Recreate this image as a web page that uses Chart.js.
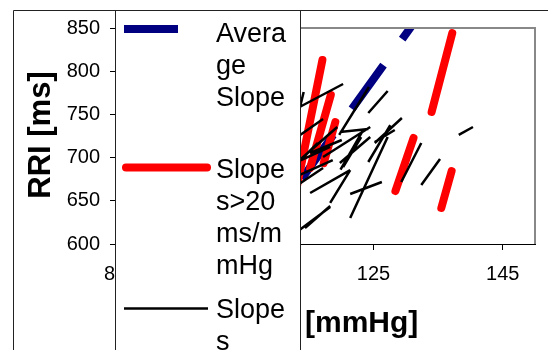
<!DOCTYPE html>
<html>
<head>
<meta charset="utf-8">
<script src="https://cdn.jsdelivr.net/npm/chart.js@4"></script>
<style>
  body { margin: 0; background: #fff; }
  #wrap { width: 548px; height: 350px; position: relative; }
</style>
</head>
<body>
<div id="wrap"><canvas id="rriChart"></canvas></div>
<script>
// segments as [x1, y1, x2, y2] in mmHg / ms
const avgSlope = [
    [113.9, 675.5, 134.2, 886.5]
];
const steepSlopes = [
    [137.2, 844.2, 134.0, 752.8],
    [131.2, 722.7, 128.4, 661.3],
    [137.1, 684.5, 135.5, 641.7],
    [117.1, 813.0, 113.2, 668.3],
    [118.4, 772.5, 115.2, 688.0],
    [119.1, 741.2, 117.3, 693.7]
];
const slopes = [
    [112.1, 752.8, 120.3, 785.2],
    [113.0, 738.9, 114.2, 775.9],
    [112.1, 718.1, 117.2, 744.7],
    [119.7, 726.2, 124.3, 781.7],
    [124.2, 751.6, 127.2, 777.1],
    [125.2, 716.9, 129.4, 745.8],
    [124.2, 694.9, 127.6, 737.7],
    [121.4, 630.1, 127.2, 723.8],
    [121.4, 657.9, 126.3, 671.8],
    [115.2, 659.0, 121.4, 685.6],
    [118.3, 647.5, 121.4, 685.6],
    [112.1, 608.1, 118.3, 642.8],
    [114.4, 618.5, 118.3, 644.0],
    [138.2, 726.2, 140.4, 735.4],
    [132.4, 668.3, 135.3, 698.4],
    [129.3, 671.8, 132.4, 716.9],
    [120.3, 689.1, 123.1, 723.8],
    [125.2, 718.1, 128.3, 731.9],
    [112.1, 691.4, 118.3, 712.3],
    [113.6, 697.2, 119.4, 735.4],
    [117.2, 700.7, 124.5, 735.4],
    [119.8, 729.6, 124.2, 733.1],
    [119.9, 686.0, 123.4, 731.9],
    [113.6, 679.9, 118.7, 697.2],
    [115.2, 705.3, 120.1, 720.4],
    [119.8, 693.7, 124.5, 723.8],
    [112.1, 685.6, 116.4, 716.9],
    [112.1, 662.5, 117.2, 688.0]
];
const xTicks = [85, 105, 125, 145];
const yTicks = [600, 650, 700, 750, 800, 850];
const legendLines = [
    ['Avera', 'ge', 'Slope'],
    ['Slope', 's>20', 'ms/m', 'mHg'],
    ['Slope', 's']
];
const xTitle = '[mmHg]';
const yTitle = 'RRI [ms]';

const FONT = '"Liberation Sans", Arial, sans-serif';

// turn segments into one point list with gaps
function toPoints(segs) {
    let pts = [];
    segs.forEach(s => {
        pts.push({ x: s[0], y: s[1] }, { x: s[2], y: s[3] }, { x: null, y: null });
    });
    return pts;
}

// white legend box, titles and frame drawn on top
const overlay = {
    id: 'overlay',
    afterDatasetsDraw(chart) {
        const ctx = chart.ctx, a = chart.chartArea;
        ctx.save();
        ctx.strokeStyle = '#888';
        ctx.lineWidth = 2;
        ctx.beginPath();
        ctx.moveTo(a.left, a.top);
        ctx.lineTo(a.right, a.top);
        ctx.lineTo(a.right, a.bottom);
        ctx.stroke();
        ctx.restore();
    },
    afterDraw(chart) {
        const ctx = chart.ctx;
        ctx.save();
        // outer frame
        ctx.strokeStyle = '#222';
        ctx.lineWidth = 1;
        ctx.beginPath();
        ctx.moveTo(13.5, 350);
        ctx.lineTo(13.5, 10.5);
        ctx.lineTo(548, 10.5);
        ctx.stroke();

        // axis titles
        ctx.fillStyle = '#000';
        ctx.font = 'bold 30px ' + FONT;
        ctx.textAlign = 'left';
        ctx.textBaseline = 'alphabetic';
        ctx.fillText(xTitle, 305, 332);
        ctx.save();
        ctx.translate(50, 135);
        ctx.rotate(-Math.PI / 2);
        ctx.font = 'bold 31px ' + FONT;
        ctx.textAlign = 'center';
        ctx.fillText(yTitle, 0, 0);
        ctx.restore();

        // legend box
        ctx.fillStyle = '#fff';
        ctx.fillRect(115, 10, 185, 350);
        ctx.strokeStyle = '#222';
        ctx.lineWidth = 1;
        ctx.strokeRect(115.5, 10.5, 185, 350);

        const ds = chart.data.datasets;
        const marks = [
            { d: ds[0], y: 29, x1: 124, x2: 208 },
            { d: ds[1], y: 167.5, x1: 126, x2: 207 },
            { d: ds[2], y: 308.5, x1: 124, x2: 208 }
        ];
        const baselines = [[42, 74, 106], [178, 210, 242, 274], [318, 350]];
        marks.forEach((m, i) => {
            ctx.save();
            ctx.strokeStyle = m.d.borderColor;
            ctx.lineWidth = m.d.borderWidth;
            ctx.lineCap = m.d.borderCapStyle;
            ctx.setLineDash(m.d.borderDash || []);
            ctx.beginPath();
            ctx.moveTo(m.x1, m.y);
            ctx.lineTo(m.x2, m.y);
            ctx.stroke();
            ctx.restore();
            ctx.fillStyle = '#000';
            ctx.font = '27px ' + FONT;
            ctx.textAlign = 'left';
            legendLines[i].forEach((t, j) => ctx.fillText(t, 216, baselines[i][j]));
        });
        ctx.restore();
    }
};

new Chart(document.getElementById('rriChart'), {
    type: 'scatter',
    data: {
        datasets: [
            {
                label: 'Average Slope',
                data: toPoints(avgSlope),
                showLine: true,
                borderColor: '#000080',
                borderWidth: 8,
                borderDash: [54, 32],
                borderCapStyle: 'butt',
                pointRadius: 0,
                clip: 0,
                order: 2
            },
            {
                label: 'Slopes>20 ms/mmHg',
                data: toPoints(steepSlopes),
                showLine: true,
                borderColor: '#ff0000',
                borderWidth: 8,
                borderCapStyle: 'round',
                pointRadius: 0,
                clip: 0,
                order: 1
            },
            {
                label: 'Slopes',
                data: toPoints(slopes),
                showLine: true,
                borderColor: '#000000',
                borderWidth: 2.5,
                borderCapStyle: 'butt',
                pointRadius: 0,
                clip: 0,
                order: 0
            }
        ]
    },
    options: {
        responsive: true,
        maintainAspectRatio: false,
        animation: false,
        spanGaps: false,
        layout: { padding: { left: 13, right: 13, top: 28, bottom: 0 } },
        plugins: { legend: { display: false }, tooltip: { enabled: false } },
        scales: {
            x: {
                type: 'linear',
                min: 85,
                max: 150,
                afterBuildTicks: s => { s.ticks = xTicks.map(v => ({ value: v })); },
                afterFit: s => { s.height = 106; },
                grid: { drawOnChartArea: false, tickLength: 6, color: '#000' },
                border: { color: '#000', width: 1 },
                ticks: { color: '#000', font: { family: FONT, size: 20 }, padding: 12, maxRotation: 0 }
            },
            y: {
                min: 600,
                max: 850,
                afterBuildTicks: s => { s.ticks = yTicks.map(v => ({ value: v })); },
                afterFit: s => { s.width = 102; },
                grid: { drawOnChartArea: false, tickLength: 5, color: '#000' },
                border: { color: '#000', width: 1 },
                ticks: { color: '#000', font: { family: FONT, size: 20 }, padding: 10 }
            }
        }
    },
    plugins: [overlay]
});
</script>
</body>
</html>
